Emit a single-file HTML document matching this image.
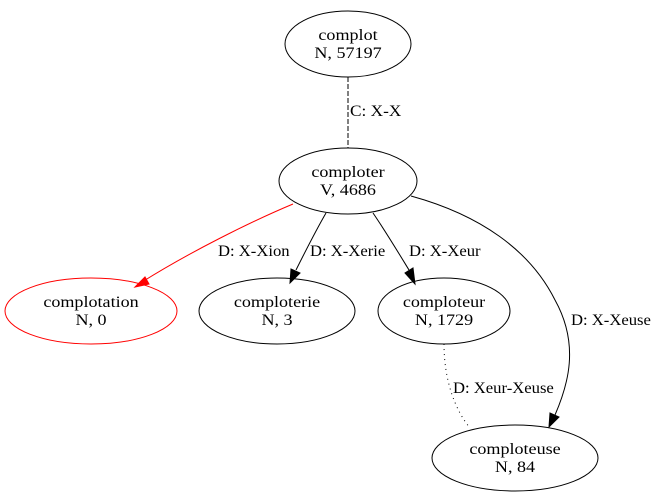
<!DOCTYPE html>
<html><head><meta charset="utf-8"><style>html,body{margin:0;padding:0;background:#fff}svg{display:block}text{font-family:"Liberation Serif","Times New Roman",serif;font-size:16px}</style></head>
<body>
<svg width="665" height="501" viewBox="0 0 665 501" xmlns="http://www.w3.org/2000/svg">
<rect width="665" height="501" fill="#fff"/>
<g fill="none" stroke="#000" stroke-width="1">
<ellipse cx="348" cy="44" rx="63" ry="33"/>
<ellipse cx="348" cy="181" rx="69" ry="33"/>
<ellipse cx="91" cy="311" rx="86" ry="33" stroke="#f00"/>
<ellipse cx="277" cy="311" rx="78" ry="33"/>
<ellipse cx="444" cy="311" rx="66" ry="33"/>
<ellipse cx="515" cy="458" rx="83" ry="33"/>
<path d="M348,77 L348,148" stroke-dasharray="5,2"/>
<path d="M293,204 C250,222 190,252 142,282" stroke="#f00"/>
<path d="M326,213 C315,232 305,252 296,270"/>
<path d="M373,213 C386,232 398,252 409,270"/>
<path d="M411,196 C480,215 530,250 555,300 C580,345 568,385 555,415"/>
<path d="M444,344 C444,380 455,410 470,428" stroke-dasharray="1,4"/>
</g>
<g>
<polygon points="135,287 145,277 149,284" fill="#f00" stroke="#f00"/>
<polygon points="290,283 291,269 300,273" fill="#000" stroke="#000"/>
<polygon points="415,284 405,273 413,268" fill="#000" stroke="#000"/>
<polygon points="549,427 550,413 559,417" fill="#000" stroke="#000"/>
</g>
<g text-anchor="middle" fill="#000">
<text transform="translate(348,40) scale(1.13,1)">complot</text><text transform="translate(348,58) scale(1.13,1)">N, 57197</text>
<text transform="translate(348,177) scale(1.13,1)">comploter</text><text transform="translate(348,195) scale(1.13,1)">V, 4686</text>
<text transform="translate(91,307) scale(1.13,1)">complotation</text><text transform="translate(91,325) scale(1.13,1)">N, 0</text>
<text transform="translate(277,307) scale(1.13,1)">comploterie</text><text transform="translate(277,325) scale(1.13,1)">N, 3</text>
<text transform="translate(444,307) scale(1.13,1)">comploteur</text><text transform="translate(444,325) scale(1.13,1)">N, 1729</text>
<text transform="translate(515,454) scale(1.13,1)">comploteuse</text><text transform="translate(515,472) scale(1.13,1)">N, 84</text>
</g>
<g fill="#000">
<text transform="translate(350,116) scale(1.08,1)">C: X-X</text>
<text transform="translate(218,256) scale(1.04,1)">D: X-Xion</text>
<text transform="translate(310,256) scale(1.04,1)">D: X-Xerie</text>
<text transform="translate(409,256) scale(1.04,1)">D: X-Xeur</text>
<text transform="translate(571,325) scale(1.04,1)">D: X-Xeuse</text>
<text transform="translate(453,393) scale(1.04,1)">D: Xeur-Xeuse</text>
</g>
</svg>
</body></html>
